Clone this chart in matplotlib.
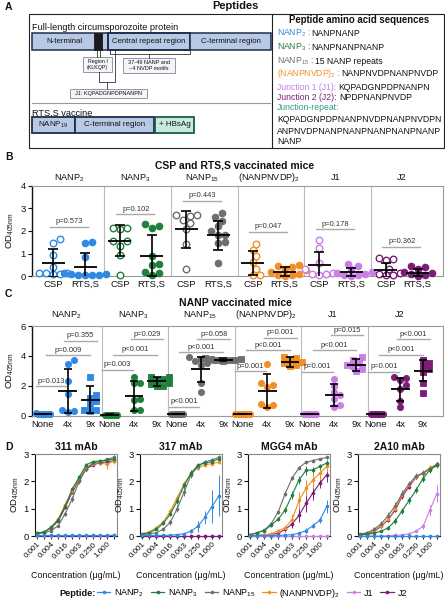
import numpy as np
import matplotlib
matplotlib.use('Agg')
import matplotlib.pyplot as plt
from matplotlib.patches import Rectangle
from matplotlib.lines import Line2D
from matplotlib.ticker import NullLocator, FixedLocator, FixedFormatter

plt.rcParams['font.family'] = ['Liberation Sans', 'DejaVu Sans']
plt.rcParams['mathtext.fontset'] = 'custom'
plt.rcParams['mathtext.rm'] = 'Liberation Sans'
plt.rcParams['mathtext.it'] = 'Liberation Sans:italic'
plt.rcParams['mathtext.bf'] = 'Liberation Sans:bold'
plt.rcParams['axes.linewidth'] = 0.8

# ---------------- data ----------------
pep_labels = [r'NANP$_{\mathregular{2}}$', r'NANP$_{\mathregular{3}}$', r'NANP$_{\mathregular{15}}$',
              r'(NANPNVDP)$_{\mathregular{2}}$', 'J1', 'J2']
pep_colors = ['#2f88e2', '#1f7f3c', '#6e6e6e', '#f28f24', '#c97fe6', '#7c1c78']

# Panel B : CSP vs RTS,S vaccinated mice
b_groups = ['CSP', 'RTS,S']
b_csp_pts = [
    [1.65, 1.45, 0.95, 0.4, 0.12, 0.1, 0.12, 0.1, 0.15],
    [2.15, 2.1, 2.15, 1.57, 1.57, 1.35, 0.93, 0.05],
    [2.7, 2.65, 2.7, 2.5, 2.35, 2.1, 1.4, 0.32],
    [1.4, 1.15, 0.88, 0.62, 0.3, 0.05, 0.05],
    [1.58, 1.25, 0.6, 0.3, 0.15, 0.1, 0.1, 0.05],
    [0.8, 0.75, 0.7, 0.3, 0.15, 0.1, 0.05, 0.05],
]
b_rts_pts = [
    [1.5, 1.45, 0.85, 0.15, 0.1, 0.08, 0.05, 0.05, 0.05, 0.03],
    [2.3, 2.15, 2.2, 0.9, 0.55, 0.5, 0.2, 0.15, 0.05],
    [2.8, 2.6, 2.45, 2.2, 2.0, 1.8, 1.8, 1.5, 1.45, 0.6],
    [0.5, 0.45, 0.4, 0.3, 0.25, 0.2, 0.1, 0.05, 0.05, 0.02],
    [0.55, 0.45, 0.3, 0.2, 0.15, 0.1, 0.05, 0.05, 0.02],
    [0.45, 0.4, 0.3, 0.2, 0.15, 0.1, 0.05, 0.02],
]
b_csp_mean = [0.57, 1.57, 2.08, 0.58, 0.47, 0.27]
b_csp_sd = [0.63, 0.70, 0.83, 0.55, 0.58, 0.33]
b_rts_mean = [0.41, 0.90, 1.80, 0.20, 0.17, 0.15]
b_rts_sd = [0.62, 0.90, 0.66, 0.18, 0.18, 0.17]
b_pvals = ['p=0.573', 'p=0.102', 'p=0.443', 'p=0.047', 'p=0.178', 'p=0.362']
b_p_y = [2.18, 2.75, 3.33, 1.96, 2.08, 1.30]

# Panel C : NANP vaccinated mice
c_groups = ['None', '4x', '9x']
c_none_pts = [
    [0.15, 0.12, 0.1, 0.1, 0.08, 0.1, 0.12],
    [0.05, 0.05, 0.06, 0.05, 0.04, 0.05],
    [0.1, 0.1, 0.11, 0.1, 0.09, 0.1],
    [0.1, 0.12, 0.08, 0.1, 0.1, 0.11, 0.1],
    [0.1, 0.1, 0.12, 0.1, 0.11, 0.08],
    [0.1, 0.11, 0.1, 0.12, 0.09, 0.1],
]
c_4x_pts = [
    [3.7, 3.45, 2.3, 1.45, 0.35, 0.3, 0.25],
    [2.6, 2.2, 2.15, 1.1, 1.05, 0.4, 0.35],
    [3.9, 3.8, 3.7, 3.65, 3.55, 3.4, 2.2, 1.55],
    [3.45, 2.2, 2.05, 1.9, 0.8, 0.7, 0.55],
    [2.45, 1.95, 1.55, 1.4, 1.1, 0.7, 0.55],
    [2.6, 2.5, 2.35, 2.05, 1.8, 0.95, 0.55],
]
c_9x_pts = [
    [2.55, 1.4, 1.2, 1.0, 0.75, 0.4, 0.35, 0.3],
    [2.6, 2.55, 2.45, 2.35, 2.2, 2.1, 2.0, 1.95],
    [3.85, 3.8, 3.78, 3.75, 3.72, 3.7, 3.68],
    [3.95, 3.85, 3.7, 3.6, 3.5, 3.4, 3.3],
    [3.9, 3.7, 3.55, 3.4, 3.3, 3.1, 2.95],
    [3.75, 3.5, 3.3, 3.1, 2.9, 2.2, 1.5],
]
c_none_mean = [0.1, 0.05, 0.1, 0.1, 0.1, 0.1]
c_none_sd = [0.03, 0.02, 0.02, 0.03, 0.03, 0.03]
c_4x_mean = [1.65, 1.30, 3.10, 1.65, 1.38, 1.75]
c_4x_sd = [1.45, 1.00, 0.85, 1.15, 0.75, 0.75]
c_9x_mean = [1.05, 2.30, 3.75, 3.60, 3.40, 3.00]
c_9x_sd = [0.90, 0.30, 0.08, 0.35, 0.40, 0.70]
c_pvals = [
    ['p=0.013', 'p=0.009', 'p=0.355'],
    ['p=0.003', 'p<0.001', 'p=0.029'],
    ['p<0.001', 'p<0.001', 'p=0.058'],
    ['p=0.001', 'p<0.001', 'p=0.001'],
    ['p=0.001', 'p<0.001', 'p=0.015'],
    ['p=0.001', 'p<0.001', 'p<0.001'],
]
c_p_y = [
    [1.95, 4.05, 5.00],
    [3.07, 4.08, 5.10],
    [0.60, 4.24, 5.10],
    [2.96, 4.36, 5.20],
    [2.93, 4.38, 5.37],
    [2.93, 4.08, 5.10],
]

# Panel D : mAb titration curves (order: NANP2, NANP3, NANP15, (NANPNVDP)2, J1, J2)
mabs = ['311 mAb', '317 mAb', 'MGG4 mAb', '2A10 mAb']
conc_exp = [-10, -9, -8, -7, -6, -5, -4, -3, -2, -1, 0, 1]   # concentration = 2**exp ug/mL
conc_ticklabels = ['0.001', '', '0.004', '', '0.016', '', '0.063', '', '0.250', '', '1.000', '']

d311_od = [
    [0.02, 0.02, 0.02, 0.02, 0.02, 0.02, 0.02, 0.02, 0.02, 0.02, 0.02, 0.02],
    [0.10, 0.15, 0.33, 0.60, 1.10, 1.72, 2.15, 2.60, 2.72, 2.75, 2.78, 2.82],
    [0.08, 0.12, 0.20, 0.38, 0.82, 1.35, 2.00, 2.45, 2.68, 2.72, 2.80, 2.88],
    [0.10, 0.15, 0.33, 0.62, 1.15, 1.65, 2.10, 2.50, 2.65, 2.68, 2.62, 2.75],
    [0.01, 0.01, 0.01, 0.01, 0.01, 0.01, 0.01, 0.01, 0.01, 0.01, 0.01, 0.03],
    [0.10, 0.15, 0.30, 0.55, 1.05, 1.60, 2.05, 2.45, 2.60, 2.68, 2.72, 2.75],
]
d311_err = [
    [0.01, 0.01, 0.01, 0.01, 0.01, 0.01, 0.01, 0.01, 0.01, 0.01, 0.01, 0.01],
    [0.02, 0.03, 0.04, 0.06, 0.08, 0.08, 0.08, 0.06, 0.05, 0.05, 0.05, 0.06],
    [0.02, 0.03, 0.04, 0.06, 0.08, 0.10, 0.08, 0.06, 0.05, 0.05, 0.06, 0.07],
    [0.02, 0.03, 0.04, 0.06, 0.08, 0.08, 0.08, 0.08, 0.08, 0.10, 0.18, 0.10],
    [0.01, 0.01, 0.01, 0.01, 0.01, 0.01, 0.01, 0.01, 0.01, 0.01, 0.01, 0.01],
    [0.02, 0.03, 0.03, 0.05, 0.06, 0.07, 0.07, 0.06, 0.05, 0.05, 0.05, 0.06],
]
d317_od = [
    [0.02, 0.02, 0.02, 0.02, 0.03, 0.05, 0.08, 0.18, 0.36, 0.68, 1.07, 1.47],
    [0.08, 0.12, 0.25, 0.46, 0.80, 1.28, 1.85, 2.30, 2.60, 2.67, 2.72, 2.82],
    [0.05, 0.08, 0.12, 0.25, 0.50, 1.00, 1.60, 2.25, 2.55, 2.72, 2.78, 2.88],
    [0.08, 0.15, 0.30, 0.52, 0.90, 1.40, 1.90, 2.30, 2.50, 2.60, 2.65, 2.70],
    [0.01, 0.01, 0.01, 0.01, 0.01, 0.01, 0.01, 0.01, 0.01, 0.01, 0.01, 0.01],
    [0.01, 0.01, 0.01, 0.01, 0.01, 0.01, 0.01, 0.01, 0.01, 0.01, 0.01, 0.01],
]
d317_err = [
    [0.01, 0.01, 0.01, 0.01, 0.01, 0.02, 0.03, 0.08, 0.20, 0.25, 0.60, 0.75],
    [0.02, 0.03, 0.04, 0.06, 0.08, 0.10, 0.10, 0.10, 0.08, 0.06, 0.06, 0.06],
    [0.02, 0.02, 0.03, 0.05, 0.08, 0.12, 0.15, 0.12, 0.08, 0.06, 0.06, 0.06],
    [0.02, 0.03, 0.05, 0.06, 0.08, 0.10, 0.10, 0.10, 0.08, 0.06, 0.06, 0.08],
    [0.01, 0.01, 0.01, 0.01, 0.01, 0.01, 0.01, 0.01, 0.01, 0.01, 0.01, 0.01],
    [0.01, 0.01, 0.01, 0.01, 0.01, 0.01, 0.01, 0.01, 0.01, 0.01, 0.01, 0.01],
]
dmgg4_od = [
    [0.01, 0.01, 0.01, 0.01, 0.02, 0.03, 0.05, 0.10, 0.20, 0.38, 0.58, 1.08],
    [0.05, 0.12, 0.20, 0.40, 0.62, 0.95, 1.50, 2.06, 2.40, 2.42, 2.55, 2.67],
    [0.05, 0.12, 0.22, 0.45, 0.88, 1.55, 2.12, 2.50, 2.70, 2.76, 2.82, 2.88],
    [0.02, 0.03, 0.05, 0.08, 0.19, 0.30, 0.60, 1.30, 1.75, 2.05, 2.30, 2.55],
    [0.01, 0.01, 0.01, 0.01, 0.01, 0.01, 0.01, 0.01, 0.01, 0.01, 0.01, 0.01],
    [0.01, 0.02, 0.03, 0.05, 0.10, 0.24, 0.44, 0.76, 1.19, 1.58, 1.94, 2.24],
]
dmgg4_err = [
    [0.01, 0.01, 0.01, 0.01, 0.01, 0.02, 0.03, 0.05, 0.08, 0.10, 0.12, 0.25],
    [0.02, 0.03, 0.04, 0.06, 0.08, 0.12, 0.15, 0.15, 0.15, 0.12, 0.10, 0.10],
    [0.02, 0.02, 0.03, 0.05, 0.06, 0.08, 0.08, 0.06, 0.05, 0.05, 0.05, 0.05],
    [0.02, 0.02, 0.03, 0.05, 0.08, 0.12, 0.20, 0.30, 0.30, 0.28, 0.25, 0.20],
    [0.01, 0.01, 0.01, 0.01, 0.01, 0.01, 0.01, 0.01, 0.01, 0.01, 0.01, 0.01],
    [0.01, 0.01, 0.02, 0.03, 0.05, 0.10, 0.15, 0.25, 0.30, 0.28, 0.20, 0.25],
]
d2a10_od = [
    [0.01, 0.01, 0.01, 0.01, 0.01, 0.01, 0.01, 0.01, 0.01, 0.01, 0.01, 0.01],
    [0.05, 0.07, 0.10, 0.18, 0.30, 0.55, 0.92, 1.30, 1.68, 2.10, 2.42, 2.58],
    [0.08, 0.12, 0.25, 0.45, 0.75, 1.10, 1.55, 1.90, 2.20, 2.30, 2.45, 2.62],
    [0.05, 0.10, 0.20, 0.38, 0.62, 1.00, 1.50, 1.85, 2.15, 2.30, 2.50, 2.60],
    [0.00, 0.00, 0.00, 0.00, 0.01, 0.02, 0.04, 0.08, 0.18, 0.35, 0.95, 1.55],
    [0.05, 0.08, 0.18, 0.35, 0.60, 0.95, 1.45, 1.80, 2.15, 2.30, 2.48, 2.62],
]
d2a10_err = [
    [0.01, 0.01, 0.01, 0.01, 0.01, 0.01, 0.01, 0.01, 0.01, 0.01, 0.01, 0.01],
    [0.02, 0.03, 0.04, 0.05, 0.08, 0.10, 0.12, 0.12, 0.12, 0.12, 0.10, 0.10],
    [0.03, 0.05, 0.08, 0.10, 0.12, 0.15, 0.15, 0.12, 0.12, 0.12, 0.12, 0.10],
    [0.02, 0.03, 0.05, 0.06, 0.08, 0.08, 0.08, 0.08, 0.08, 0.08, 0.08, 0.08],
    [0.01, 0.01, 0.01, 0.01, 0.01, 0.01, 0.02, 0.03, 0.05, 0.10, 0.20, 0.30],
    [0.02, 0.03, 0.05, 0.06, 0.08, 0.08, 0.08, 0.08, 0.08, 0.08, 0.08, 0.08],
]
d_od = [d311_od, d317_od, dmgg4_od, d2a10_od]
d_err = [d311_err, d317_err, dmgg4_err, d2a10_err]

# ---------------- figure ----------------
W, H = 445, 600
fig = plt.figure(figsize=(W / 100, H / 100), dpi=100)
renderer = fig.canvas.get_renderer()


def ax_px(l, t, r, b):
    return fig.add_axes([l / W, 1 - b / H, (r - l) / W, (b - t) / H])


ov = fig.add_axes([0, 0, 1, 1], zorder=0)
ov.set_xlim(0, W)
ov.set_ylim(H, 0)
ov.axis('off')

TXT = '#111111'


def swarm(vals, ypu, xpu, d):
    vals = np.asarray(vals, float)
    order = np.argsort(vals)
    placed = []
    offs = np.zeros(len(vals))
    cands = [0]
    for k in range(1, 9):
        cands += [k, -k]
    for i in order:
        y = vals[i] * ypu
        chosen = cands[-1]
        for c in cands:
            x = c * d * 0.5
            if all((x - px) ** 2 + (y - py) ** 2 >= d * d * 0.8 for px, py in placed):
                chosen = c
                break
        x = chosen * d * 0.5
        placed.append((x, y))
        offs[i] = x / xpu
    return offs


# ---------------- Panel A ----------------
for lab, y in [('A', 7), ('B', 157), ('C', 294), ('D', 447)]:
    ov.text(5, y, lab, fontsize=7.5, fontweight='bold', va='center', ha='left', color=TXT)

ov.text(235, 6, 'Peptides', fontsize=8, fontweight='bold', ha='center', va='center', color=TXT)
ov.add_patch(Rectangle((28.5, 13.5), 415, 134, fc='none', ec='#222222', lw=0.8))
ov.plot([272, 272], [13.5, 147.5], color='#222222', lw=0.8)

FILL = '#b8c9e6'
EDGE = '#1f2d4a'
ov.text(32, 27, 'Full-length circumsporozoite protein', fontsize=6.6, va='center', ha='left', color=TXT)


def rbox(x0, y0, x1, y1, fc=FILL, ec=EDGE, lw=1.1, text=None, fs=5.6):
    ov.add_patch(Rectangle((x0, y0), x1 - x0, y1 - y0, fc=fc, ec=ec, lw=lw))
    if text:
        ov.text((x0 + x1) / 2, (y0 + y1) / 2, text, fontsize=fs, ha='center', va='center',
                color=TXT, linespacing=1.1)


rbox(32, 33, 108, 50, text=None)
ov.text(64, 41.5, 'N-terminal', fontsize=5.6, ha='center', va='center', color=TXT)
rbox(94, 33, 102, 50, fc='#1a1a1a', ec='#1a1a1a', lw=0.6)
rbox(108, 33, 190, 50, text='Central repeat region', lw=1.4)
rbox(190, 33, 271, 50, text='C-terminal region')

LC = '#333333'
ov.plot([110, 110, 190, 190], [50, 54, 54, 50], color=LC, lw=0.6)
ov.plot([149, 149], [54, 58], color=LC, lw=0.6)
ov.plot([96.5, 96.5], [50, 57], color=LC, lw=0.6)
ov.plot([100, 100], [50, 57], color=LC, lw=0.6)
ov.plot([99, 99, 115, 115], [72, 82, 82, 50], color=LC, lw=0.6)
ov.plot([107, 107], [82, 89], color=LC, lw=0.6)
SB_FC = '#f3f5f9'
SB_EC = '#7d8796'
rbox(83, 57, 112, 72, fc=SB_FC, ec=SB_EC, lw=0.6, text='Region I\n(KLKQP)', fs=3.8)
rbox(123, 58, 175, 73, fc=SB_FC, ec=SB_EC, lw=0.6, text='37-49 NANP and\n~4 NVDP motifs', fs=4.0)
rbox(70, 89, 147, 98, fc=SB_FC, ec=SB_EC, lw=0.6, text='J1: KQPADGNPDPNANPN', fs=4.0)

ov.plot([32, 270], [103, 103], color='#999999', lw=0.8)
ov.text(32, 113, 'RTS,S vaccine', fontsize=6.6, va='center', ha='left', color=TXT)
rbox(32, 117, 75, 133, text=r'NANP$_{\mathregular{19}}$', lw=1.3, fs=5.8)
rbox(75, 117, 154, 133, text='C-terminal region', lw=1.3, fs=5.8)
rbox(155, 117, 194, 133, fc='#c8eadb', ec='#1d5a4c', lw=1.3, text='+ HBsAg', fs=5.8)

ov.text(359, 20, 'Peptide amino acid sequences', fontsize=6.9, fontweight='bold', ha='center',
        va='center', color=TXT)

seq_rows = [
    (pep_labels[0] + ' : ', 'NANPNANP', pep_colors[0], 33),
    (pep_labels[1] + ' : ', 'NANPNANPNANP', pep_colors[1], 47),
    (pep_labels[2] + ' : ', '15 NANP repeats', pep_colors[2], 61),
    (pep_labels[3] + ' : ', 'NANPNVDPNANPNVDP', pep_colors[3], 74),
    ('Junction 1 (J1): ', 'KQPADGNPDPNANPN', pep_colors[4], 87),
    ('Junction 2 (J2): ', 'NPDPNANPNVDP', pep_colors[5], 98),
    ('Junction-repeat:', '', '#2e9c86', 108),
    ('', 'KQPADGNPDPNANPNVDPNANPNVDPN', TXT, 119),
    ('', 'ANPNVDPNANPNANPNANPNANPNANP', TXT, 131),
    ('', 'NANP', TXT, 142),
]
for pre, rest, col, y in seq_rows:
    x = 277
    if pre:
        t = ov.text(x, y, pre, fontsize=6.2, color=col, va='center', ha='left')
        x += t.get_window_extent(renderer=renderer).width
    if rest:
        ov.text(x, y, rest, fontsize=6.2, color=TXT, va='center', ha='left')

# ---------------- Panel B ----------------
axB = ax_px(32, 186, 443, 276)
axB.set_zorder(1)
axB.set_xlim(-0.32, 5.86)
axB.set_ylim(0, 4)
B_YPU, B_XPU = 22.5, 66.5
for g in range(6):
    col = pep_colors[g]
    xc, xr = g, g + 0.48
    oc = swarm(b_csp_pts[g], B_YPU, B_XPU, 7.0)
    orr = swarm(b_rts_pts[g], B_YPU, B_XPU, 7.0)
    axB.scatter(xc + oc, b_csp_pts[g], s=22, facecolors='white', edgecolors=col, linewidths=1.0,
                clip_on=False, zorder=3)
    axB.scatter(xr + orr, b_rts_pts[g], s=22, facecolors=col, edgecolors=col, linewidths=0.8,
                clip_on=False, zorder=3)
    for x, m, s in [(xc, b_csp_mean[g], b_csp_sd[g]), (xr, b_rts_mean[g], b_rts_sd[g])]:
        axB.hlines(m, x - 0.17, x + 0.17, color='k', lw=1.3, zorder=4)
        axB.errorbar(x, m, yerr=s, fmt='none', ecolor='k', elinewidth=1.2, capsize=3.3,
                     capthick=1.2, zorder=4)
    axB.plot([xc - 0.05, xr + 0.04], [b_p_y[g], b_p_y[g]], color='#aaaaaa', lw=1.0, zorder=2)
    axB.text((xc + xr) / 2, b_p_y[g] + 0.07, b_pvals[g], ha='center', va='bottom', fontsize=5.4,
             color='#333333')
    axB.text(g + 0.24, 4.36, pep_labels[g], ha='center', va='center', fontsize=6.6, color=TXT,
             clip_on=False)
    if g < 5:
        axB.axvline(g + 0.77, color='#bbbbbb', lw=0.8, zorder=1)
xt = []
xl = []
for g in range(6):
    xt += [g, g + 0.48]
    xl += b_groups
axB.set_xticks(xt)
axB.set_xticklabels(xl, fontsize=6.8, color=TXT)
axB.tick_params(axis='x', length=0, pad=3)
axB.set_yticks([0, 1, 2, 3, 4])
axB.tick_params(axis='y', labelsize=6.8, length=3, width=0.8, pad=1.5, colors=TXT)
axB.set_ylabel(r'OD$_{\mathregular{405nm}}$', fontsize=6.8, labelpad=3, color=TXT)
for sp in ['top', 'right', 'bottom']:
    axB.spines[sp].set_color('#9a9a9a')
axB.spines['left'].set_color('#111111')
axB.spines['left'].set_linewidth(1.0)
ov.text(235, 166, 'CSP and RTS,S vaccinated mice', fontsize=7.5, fontweight='bold', ha='center',
        va='center', color=TXT)

# ---------------- Panel C ----------------
axC = ax_px(32, 326, 443, 415.5)
axC.set_zorder(1)
axC.set_xlim(-0.165, 6.01)
axC.set_ylim(0, 6)
C_YPU, C_XPU = 14.8, 66.5
cx = [0.0, 0.37, 0.71]
for g in range(6):
    col = pep_colors[g]
    sets = [(c_none_pts[g], c_none_mean[g], c_none_sd[g], 'o'),
            (c_4x_pts[g], c_4x_mean[g], c_4x_sd[g], 'o'),
            (c_9x_pts[g], c_9x_mean[g], c_9x_sd[g], 's')]
    for k, (pts, m, s, mk) in enumerate(sets):
        x = g + cx[k]
        off = swarm(pts, C_YPU, C_XPU, 6.0 if k else 2.4)
        axC.scatter(x + off, pts, s=20 if mk == 'o' else 18, marker=mk, facecolors=col,
                    edgecolors=col, linewidths=0.6, clip_on=False, zorder=3)
        axC.hlines(m, x - 0.14, x + 0.14, color='k', lw=1.3, zorder=4)
        axC.errorbar(x, m, yerr=s, fmt='none', ecolor='k', elinewidth=1.2, capsize=2.8,
                     capthick=1.2, zorder=4)
    spans = [(g + cx[0] - 0.11, g + cx[1] - 0.02),
             (g + cx[0] + 0.05, g + cx[2] + 0.0),
             (g + cx[1] - 0.05, g + cx[2] + 0.1)]
    for k in range(3):
        x0, x1 = spans[k]
        py = c_p_y[g][k]
        axC.plot([x0, x1], [py, py], color='#aaaaaa', lw=1.0, zorder=2)
        axC.text((x0 + x1) / 2, py + 0.1, c_pvals[g][k], ha='center', va='bottom', fontsize=5.4,
                 color='#333333', zorder=5)
    axC.text(g + 0.355, 6.74, pep_labels[g], ha='center', va='center', fontsize=6.6, color=TXT,
             clip_on=False)
    if g < 5:
        axC.axvline(g + 0.88, color='#bbbbbb', lw=0.8, zorder=1)
xt = []
xl = []
for g in range(6):
    xt += [g + c for c in cx]
    xl += c_groups
axC.set_xticks(xt)
axC.set_xticklabels(xl, fontsize=6.8, color=TXT)
axC.tick_params(axis='x', length=0, pad=3)
axC.set_yticks([0, 2, 4, 6])
axC.tick_params(axis='y', labelsize=6.8, length=3, width=0.8, pad=1.5, colors=TXT)
axC.set_ylabel(r'OD$_{\mathregular{405nm}}$', fontsize=6.8, labelpad=3, color=TXT)
for sp in ['top', 'right', 'bottom']:
    axC.spines[sp].set_color('#9a9a9a')
axC.spines['left'].set_color('#111111')
axC.spines['left'].set_linewidth(1.0)
ov.text(235, 303, 'NANP vaccinated mice', fontsize=7.5, fontweight='bold', ha='center',
        va='center', color=TXT)

# ---------------- Panel D ----------------
conc = 2.0 ** np.array(conc_exp, float)
draw_order = [4, 5, 3, 2, 1, 0]
d_lefts = [35, 140, 248, 358]
for j in range(4):
    l = d_lefts[j]
    ax = ax_px(l, 454, l + 82, 536)
    ax.set_zorder(1)
    ax.set_xscale('log', base=2)
    ax.set_xlim(2 ** -10.35, 2 ** 1.45)
    ax.set_ylim(0, 3)
    for p in draw_order:
        ax.errorbar(conc, d_od[j][p], yerr=d_err[j][p], color=pep_colors[p], lw=0.8, marker='o',
                    ms=2.6, mew=0, elinewidth=0.7, capsize=1.6, capthick=0.7, clip_on=False,
                    zorder=3)
    ax.xaxis.set_major_locator(FixedLocator(conc))
    ax.xaxis.set_major_formatter(FixedFormatter(conc_ticklabels))
    ax.xaxis.set_minor_locator(NullLocator())
    ax.tick_params(axis='x', labelsize=5.8, length=2.5, width=0.7, pad=1, colors=TXT)
    plt.setp(ax.get_xticklabels(), rotation=45, ha='right', rotation_mode='anchor')
    ax.set_yticks([0, 1, 2, 3])
    ax.tick_params(axis='y', labelsize=6.8, length=3, width=0.8, pad=1.5, colors=TXT)
    ax.set_ylabel(r'OD$_{\mathregular{405nm}}$', fontsize=6.8, labelpad=2, color=TXT)
    ax.set_title(mabs[j], fontsize=7.5, fontweight='bold', pad=3, color=TXT)
    for sp in ['top', 'right']:
        ax.spines[sp].set_color('#8a8a8a')
    for sp in ['left', 'bottom']:
        ax.spines[sp].set_color('#111111')
    ov.text(l + 41, 575, 'Concentration (\u03bcg/mL)', fontsize=6.4, ha='center', va='center',
            color=TXT)

handles = [Line2D([0], [0], color=c, lw=0.9, marker='o', ms=2.6, mew=0) for c in pep_colors]
fig.legend(handles, pep_labels, loc='center', bbox_to_anchor=(252 / W, 1 - 593 / H), ncol=6,
           frameon=False, fontsize=6.4, handlelength=1.5, handletextpad=0.4, columnspacing=0.8,
           borderpad=0, borderaxespad=0)
ov.text(78, 593, 'Peptide:', fontsize=6.6, fontweight='bold', ha='center', va='center', color=TXT)

fig.savefig('out.png', dpi=100)
